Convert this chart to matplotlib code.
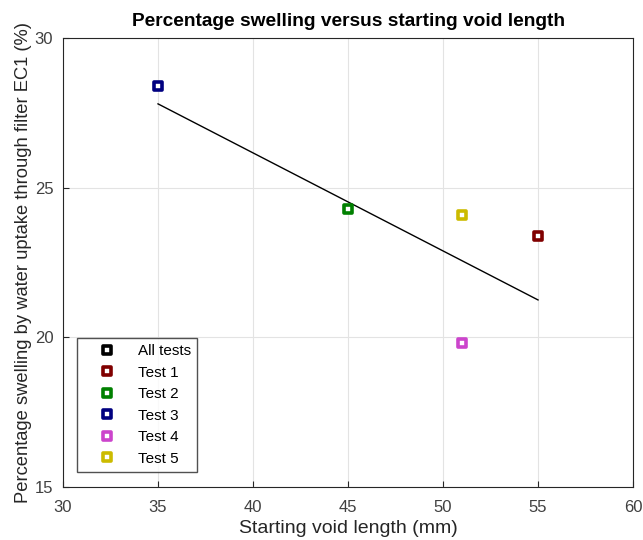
import numpy as np
import matplotlib
matplotlib.use('Agg')
import matplotlib.pyplot as plt
from matplotlib.markers import MarkerStyle

plt.rcParams['font.family'] = ['Liberation Sans', 'DejaVu Sans']

# measured data
labels = ['Test 1', 'Test 2', 'Test 3', 'Test 4', 'Test 5']
void_len = [55, 45, 35, 51, 51]      # mm
swelling = [23.4, 24.3, 28.4, 19.8, 24.1]  # %
colors = ['#800000', '#008000', '#000080', '#cc44cc', '#ccbb00']

# fitted line over all tests
fit_x = [35, 55]
fit_y = [27.8, 21.25]

fig = plt.figure(figsize=(6.43, 5.4), dpi=100)
ax = fig.add_axes([0.098, 0.0981, 0.8865, 0.8315])

mk = MarkerStyle('s', joinstyle='round')
ax.plot(fit_x, fit_y, color='black', lw=1.0)
ax.plot([], [], ls='none', marker=mk, ms=6, mfc='white', mec='black', mew=2.6, label='All tests')
for x, y, c, lab in zip(void_len, swelling, colors, labels):
    ax.plot(x, y, ls='none', marker=mk, ms=6, mfc='white', mec=c, mew=2.6, label=lab)

ax.set_xlim(30, 60)
ax.set_ylim(15, 30)
ax.set_xticks(np.arange(30, 61, 5))
ax.set_yticks([15, 20, 25, 30])
ax.grid(True, color='#e3e3e3', lw=0.8)
ax.set_axisbelow(True)
ax.tick_params(direction='in', length=4, labelsize=12, colors='#262626', labelcolor='#404040')
ax.tick_params(axis='x', pad=9)
ax.tick_params(axis='y', pad=7)
for s in ax.spines.values():
    s.set_color('#262626')

ax.set_title('Percentage swelling versus starting void length', fontsize=13.8, fontweight='bold', pad=9)
ax.set_xlabel('Starting void length (mm)', fontsize=14, labelpad=4, color='#262626')
ax.set_ylabel('Percentage swelling by water uptake through filter EC1 (%)', fontsize=13.2,
              labelpad=2, color='#262626')

leg = ax.legend(loc='lower left', bbox_to_anchor=(0.0246, 0.0334), fontsize=11, frameon=True,
                fancybox=False, edgecolor='#262626', handlelength=3.06, handletextpad=0.5,
                labelspacing=0.49, borderpad=0.42, borderaxespad=0)
leg.get_frame().set_linewidth(1.0)

fig.savefig('out.png', dpi=100)
